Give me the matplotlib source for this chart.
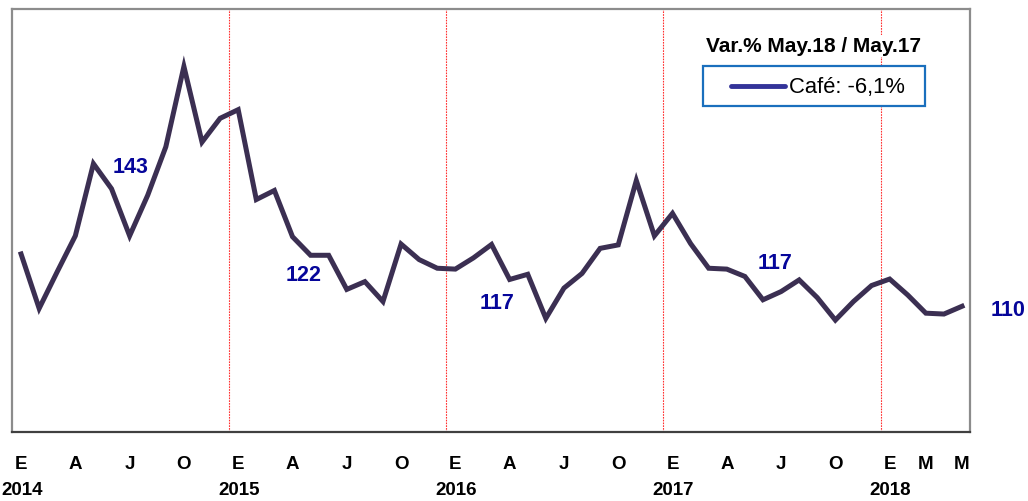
import matplotlib
matplotlib.use("Agg")
import matplotlib.pyplot as plt
from matplotlib.lines import Line2D
from matplotlib.patches import Rectangle
from matplotlib.transforms import blended_transform_factory

# monthly index, Jan 2014 .. May 2018 (53 months)
cafe = [
    122.1, 109.5, 118.0, 126.3, 143.0, 137.2, 126.3, 135.7, 146.9, 165.5, 148.0, 153.5,
    155.5, 134.7, 136.8, 126.1, 121.8, 121.8, 113.9, 115.7, 111.1, 124.4, 120.8, 118.8,
    118.6, 121.2, 124.3, 116.2, 117.4, 107.2, 114.2, 117.6, 123.4, 124.2, 139.1, 126.3,
    131.5, 124.5, 118.8, 118.6, 116.9, 111.5, 113.4, 116.1, 112.0, 106.8, 111.1, 114.8,
    116.3, 112.6, 108.4, 108.2, 110.0,
]
tick_pos = [0, 3, 6, 9, 12, 15, 18, 21, 24, 27, 30, 33, 36, 39, 42, 45, 48, 50, 52]
tick_lbl = ["E", "A", "J", "O", "E", "A", "J", "O", "E", "A", "J", "O",
            "E", "A", "J", "O", "E", "M", "M"]
years = ["2014", "2015", "2016", "2017", "2018"]
year_pos = [0, 12, 24, 36, 48]
# May values labelled on the chart
may_idx = [4, 16, 28, 40, 52]
may_lbl = ["143", "122", "117", "117", "110"]
may_off = [(27, -2), (-5, -14), (-22, -20), (22, 10), (33, -2)]  # points

FONT = ["Liberation Sans", "DejaVu Sans"]

W, H = 1028, 502
fig = plt.figure(figsize=(W / 100, H / 100), dpi=100)
ax = fig.add_axes([12 / W, (H - 433) / H, 958 / W, 423 / H])

x = list(range(len(cafe)))
ax.plot(x, cafe, color="#3b2f52", lw=3.6, solid_joinstyle="miter", zorder=3)

for yp in year_pos[1:]:
    ax.axvline(yp - 0.5, color="#ff3030", lw=0.8, ls=(0, (1.5, 1)), zorder=1)

ax.set_xlim(-0.5, 52.44)
ax.set_ylim(80.9, 178.8)
ax.set_yticks([])
ax.set_xticks(tick_pos)
ax.set_xticklabels(tick_lbl, fontsize=13.5, fontweight="bold", family=FONT)
ax.tick_params(axis="x", length=0, pad=16.5)

trans = blended_transform_factory(ax.transData, ax.transAxes)
for yp, yl in zip(year_pos, years):
    ax.text(yp + 0.05, -0.137, yl, transform=trans, ha="center", va="center",
            fontsize=13.5, fontweight="bold", family=FONT)

for sp in ["left", "right", "top"]:
    ax.spines[sp].set_color("#8c8c8c")
    ax.spines[sp].set_linewidth(1.6)
ax.spines["bottom"].set_color("#404040")
ax.spines["bottom"].set_linewidth(1.6)

for i, lbl, off in zip(may_idx, may_lbl, may_off):
    ax.annotate(lbl, (i, cafe[i]), xytext=off, textcoords="offset points",
                ha="center", va="center", fontsize=15.5, fontweight="bold",
                color="#06069a", family=FONT, annotation_clip=False, zorder=4)

# legend block (title outside the framed box)
fig.text(813 / W, 1 - 47 / H, "Var.% May.18 / May.17", ha="center", va="center",
         fontsize=15, fontweight="bold", family=FONT,
         bbox=dict(facecolor="white", edgecolor="none", pad=1), zorder=5)
fig.add_artist(Rectangle((703 / W, 1 - 107 / H), 222 / W, 40 / H,
                         transform=fig.transFigure, facecolor="white",
                         edgecolor="#1a6fbd", lw=1.6, zorder=5))
fig.add_artist(Line2D([731 / W, 785 / W], [1 - 87 / H] * 2, transform=fig.transFigure,
                      color="#333399", lw=3.5, solid_capstyle="round", zorder=6))
fig.text(789 / W, 1 - 87 / H, "Café: -6,1%", ha="left", va="center",
         fontsize=15.8, family=FONT, zorder=6)

fig.savefig("out.png", dpi=100)
